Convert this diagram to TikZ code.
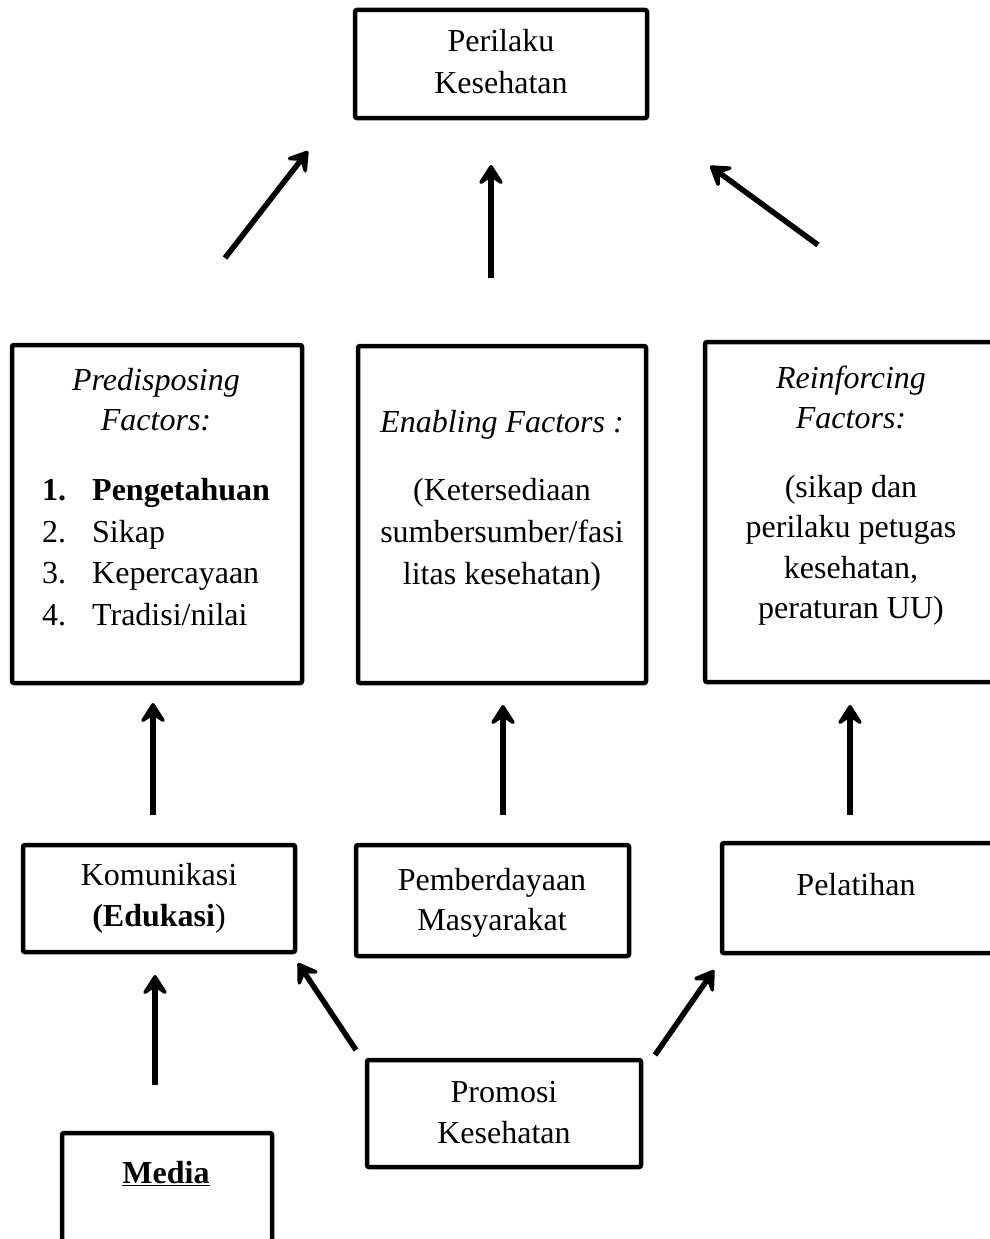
\documentclass[tikz,border=0pt]{standalone}
\usepackage{fontspec}
\setmainfont{Liberation Serif}
\usetikzlibrary{arrows.meta}
\begin{document}
\begin{tikzpicture}[x=1pt,y=-1pt,
  box/.style={draw,line width=4.5pt,rounded corners=2pt},
  txt/.style={anchor=base,inner sep=0pt,font=\fontsize{32}{42}\selectfont},
  ltxt/.style={anchor=base west,inner sep=0pt,font=\fontsize{32}{42}\selectfont},
  arr/.style={line width=5.5pt,-{Stealth[length=25pt,width=32pt,inset=11pt,round]}}]
\useasboundingbox (0,0) rectangle (989,1239);
% boxes
\draw[box] (355,10) rectangle (647,118) node[midway] (perilaku) {};
\draw[box] (12,345) rectangle (302,683) node[midway] (pred) {};
\draw[box] (358,346) rectangle (646,683) node[midway] (enab) {};
\draw[box] (705,342) rectangle (1010,682) node[midway] (rein) {};
\draw[box] (23,845) rectangle (295,952) node[midway] (komu) {};
\draw[box] (356,845) rectangle (629,956) node[midway] (pember) {};
\draw[box] (722,843) rectangle (1010,953) node[midway] (pelat) {};
\draw[box] (367,1060) rectangle (641,1167) node[midway] (promosi) {};
\draw[box] (62,1133) rectangle (272,1270) node[midway] (media) {};
% texts
\node[txt] (t1) at (501,52) {Perilaku};
\node[txt] (t2) at (501,93) {Kesehatan};
\node[txt] (t3) at (156,390) {\itshape Predisposing};
\node[txt] (t4) at (156,430) {\itshape Factors:};
\node[ltxt] (n1) at (42,500) {\bfseries 1.};
\node[ltxt] (i1) at (92,500) {\bfseries Pengetahuan};
\node[ltxt] (n2) at (42,542) {2.};
\node[ltxt] (i2) at (92,542) {Sikap};
\node[ltxt] (n3) at (42,583) {3.};
\node[ltxt] (i3) at (92,583) {Kepercayaan};
\node[ltxt] (n4) at (42,625) {4.};
\node[ltxt] (i4) at (92,625) {Tradisi/nilai};
\node[txt] (e1) at (502,432) {\itshape Enabling Factors :};
\node[txt] (e2) at (502,500) {(Ketersediaan};
\node[txt] (e3) at (502,542) {sumbersumber/fasi};
\node[txt] (e4) at (502,584) {litas kesehatan)};
\node[txt] (r1) at (851,388) {\itshape Reinforcing};
\node[txt] (r2) at (851,428) {\itshape Factors:};
\node[txt] (r3) at (851,497) {(sikap dan};
\node[txt] (r4) at (851,537) {perilaku petugas};
\node[txt] (r5) at (851,578) {kesehatan,};
\node[txt] (r6) at (851,618) {peraturan UU)};
\node[txt] (k1) at (159,885) {Komunikasi};
\node[txt] (k2) at (159,926) {\textbf{(Edukasi})};
\node[txt] (p1) at (492,890) {Pemberdayaan};
\node[txt] (p2) at (492,930) {Masyarakat};
\node[txt] (pl) at (856,895) {Pelatihan};
\node[txt] (pr1) at (504,1102) {Promosi};
\node[txt] (pr2) at (504,1143) {Kesehatan};
\node[txt] (m1) at (166,1183) {\bfseries\underline{Media}};
% arrow end coordinates
\coordinate (a1s) at (225,258); \coordinate (a1e) at (308,151);
\coordinate (a2s) at (491,278); \coordinate (a2e) at (491,165);
\coordinate (a3s) at (818,245); \coordinate (a3e) at (710,166);
\coordinate (b1s) at (153,815); \coordinate (b1e) at (153,703);
\coordinate (b2s) at (503,815); \coordinate (b2e) at (503,705);
\coordinate (b3s) at (850,815); \coordinate (b3e) at (850,705);
\coordinate (c1s) at (155,1085); \coordinate (c1e) at (155,975);
\coordinate (c2s) at (356,1050); \coordinate (c2e) at (298,963);
\coordinate (c3s) at (655,1055); \coordinate (c3e) at (714,970);
\draw[arr] (a1s) -- (a1e);
\draw[arr] (a2s) -- (a2e);
\draw[arr] (a3s) -- (a3e);
\draw[arr] (b1s) -- (b1e);
\draw[arr] (b2s) -- (b2e);
\draw[arr] (b3s) -- (b3e);
\draw[arr] (c1s) -- (c1e);
\draw[arr] (c2s) -- (c2e);
\draw[arr] (c3s) -- (c3e);
\end{tikzpicture}
\end{document}
